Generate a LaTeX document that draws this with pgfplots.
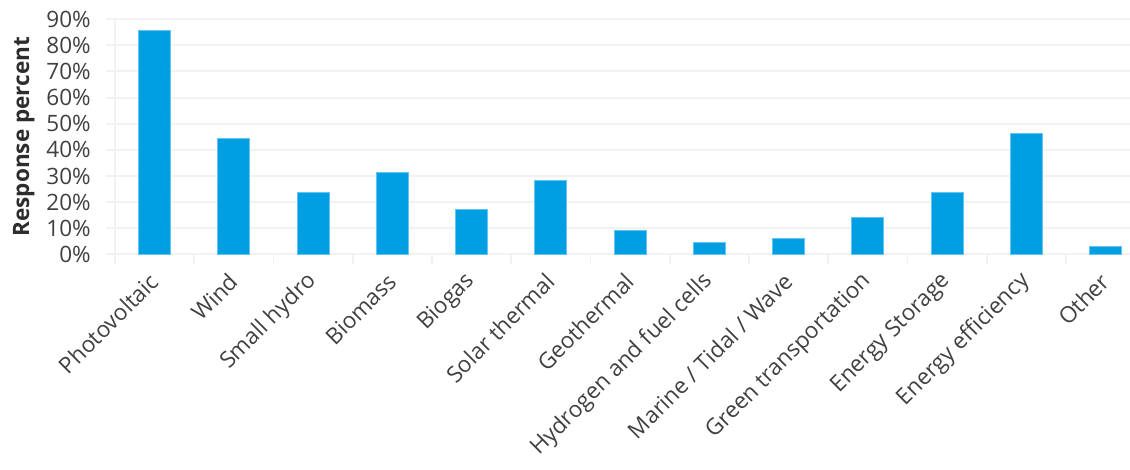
\documentclass[border=0pt]{standalone}
\usepackage{pgfplots}
\pgfplotsset{compat=1.18}
\usepackage{fontspec}
\setmainfont{Open Sans}
\definecolor{barblue}{RGB}{0,159,227}
\definecolor{baredge}{RGB}{100,196,240}
\definecolor{gridcol}{RGB}{242,242,242}
\definecolor{txt}{RGB}{64,64,64}
\definecolor{lbl}{RGB}{45,45,45}
\begin{document}
\begin{tikzpicture}
\begin{axis}[
  scale only axis,
  width=761.25pt, height=176.625pt,
  xmin=-0.5, xmax=12.308, ymin=0, ymax=90,
  axis lines*=left,
  axis line style={-, draw=gridcol, line width=1.5pt},
  ytick={0,10,...,90},
  yticklabels={0\%,10\%,20\%,30\%,40\%,50\%,60\%,70\%,80\%,90\%},
  ymajorgrids,
  grid style={draw=gridcol, line width=1.5pt},
  xtick={0,...,12},
  minor xtick={-0.5,0.5,...,11.5},
  xticklabels={Photovoltaic,Wind,Small hydro,Biomass,Biogas,Solar thermal,Geothermal,Hydrogen and fuel cells,Marine / Tidal / Wave,Green transportation,Energy Storage,Energy efficiency,Other},
  tick align=outside,
  major tick length=6.75pt,
  minor tick length=6.75pt,
  major x tick style={draw=none},
  minor x tick style={draw=gridcol, line width=1.2pt},
  major y tick style={draw=gridcol, line width=1.5pt},
  every tick label/.append style={font=\fontsize{16.9}{20}\selectfont, text=txt},
  yticklabel style={anchor=east, inner sep=0pt},
  yticklabel shift=11.25pt,
  xticklabel style={rotate=45, anchor=east, inner sep=0pt},
  xticklabel shift=10.5pt,
  ylabel={Response percent},
  ylabel style={at={(axis description cs:-0.1008,0.5)}, rotate=0, anchor=north, inner sep=0pt, font=\bfseries\fontsize{16.9}{20}\selectfont, text=lbl},
]
\addplot[ybar, bar width=0.404, fill=barblue, draw=baredge, line width=0.6pt]
  coordinates {(0,85.6) (1,44.4) (2,23.6) (3,31.5) (4,17.2) (5,28.4) (6,9.3) (7,4.6) (8,6.3) (9,14.2) (10,23.8) (11,46.1) (12,3.1)};
\end{axis}
\pgfresetboundingbox
\useasboundingbox (-86.25pt,-161.625pt) rectangle (761.25pt,190.875pt);
\end{tikzpicture}
\end{document}
